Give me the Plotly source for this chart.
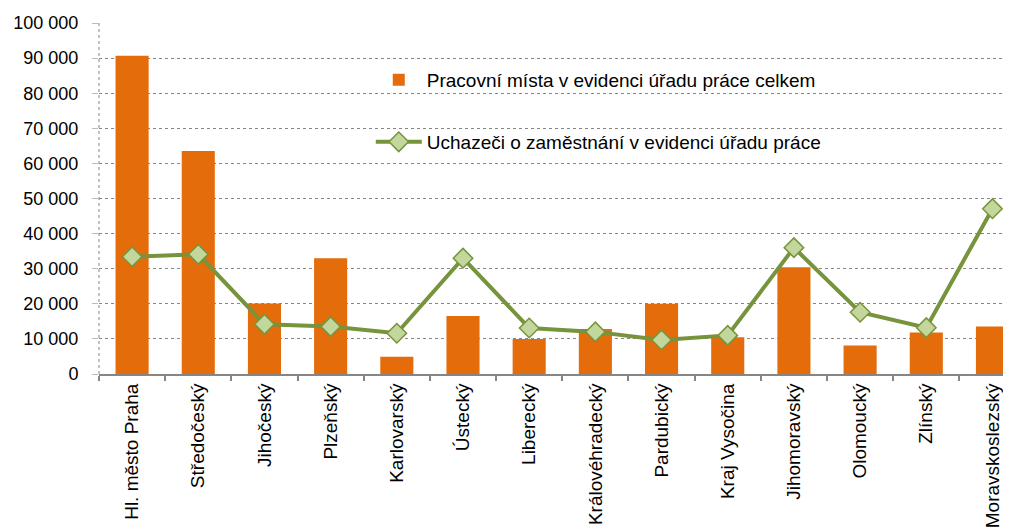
import plotly.graph_objects as go

regions = ["Hl. město Praha", "Středočeský", "Jihočeský", "Plzeňský", "Karlovarský",
           "Ústecký", "Liberecký", "Královéhradecký", "Pardubický", "Kraj Vysočina",
           "Jihomoravský", "Olomoucký", "Zlínský", "Moravskoslezský"]
pracovni_mista = [90700, 63500, 20100, 33000, 4900, 16500, 10000, 12800, 20000, 10500,
                  30400, 8100, 11800, 13500]
uchazeci = [33400, 34100, 14200, 13500, 11600, 33000, 13100, 12000, 9700, 11000,
            36000, 17600, 13200, 47100]
y_ticks = [0, 10000, 20000, 30000, 40000, 50000, 60000, 70000, 80000, 90000, 100000]

FONT = "Liberation Sans, Arial, sans-serif"
ORANGE = "#E46C0A"
GREEN = "#77933C"
LIGHTGREEN = "#C3D69B"
GRAY = "#868686"
FS = 19

fig = go.Figure()
fig.add_trace(go.Bar(
    x=regions, y=pracovni_mista, name="Pracovní místa v evidenci úřadu práce celkem",
    marker=dict(color=ORANGE, line=dict(width=0)), legend="legend",
))
fig.add_trace(go.Scatter(
    x=regions, y=uchazeci, name="Uchazeči o zaměstnání v evidenci úřadu práce",
    mode="lines+markers", line=dict(color=GREEN, width=4),
    marker=dict(symbol="diamond", size=15, color=LIGHTGREEN, line=dict(color=GREEN, width=1.5)),
    legend="legend2",
))

fig.update_layout(
    width=1011, height=528,
    margin=dict(l=91, r=8, t=15, b=162, autoexpand=False),
    plot_bgcolor="white", paper_bgcolor="white",
    font=dict(family=FONT, size=FS, color="#000000"),
    separators=", ",
    bargap=0.5,
    showlegend=True,
    legend=dict(x=0.298, y=0.838, xanchor="left", yanchor="middle",
                bgcolor="rgba(0,0,0,0)", font=dict(size=FS), itemwidth=46),
    legend2=dict(x=0.298, y=0.661, xanchor="left", yanchor="middle",
                 bgcolor="rgba(0,0,0,0)", font=dict(size=FS), itemwidth=46),
    xaxis=dict(
        type="category", range=[-0.5, 13.28],
        showline=True, linecolor=GRAY, linewidth=2,
        ticks="outside", tickson="boundaries", ticklen=5, tickcolor=GRAY, tickwidth=1.5,
        tickangle=-90, showgrid=False, automargin=False,
        tickfont=dict(size=FS),
    ),
    yaxis=dict(
        range=[0, 100000], tickvals=y_ticks, tickformat=",d",
        showgrid=True, gridcolor=GRAY, griddash="dot", gridwidth=1,
        ticks="outside", ticklen=6, tickcolor="#BBBBBB",
        ticklabelstandoff=10,
        showline=False, zeroline=False, automargin=False,
        tickfont=dict(size=18),
    ),
    shapes=[dict(type="line", xref="paper", yref="paper", x0=0, x1=0, y0=0, y1=1,
                 line=dict(color=GRAY, width=1, dash="dot"), layer="below")],
)

fig.write_html("out.html")
